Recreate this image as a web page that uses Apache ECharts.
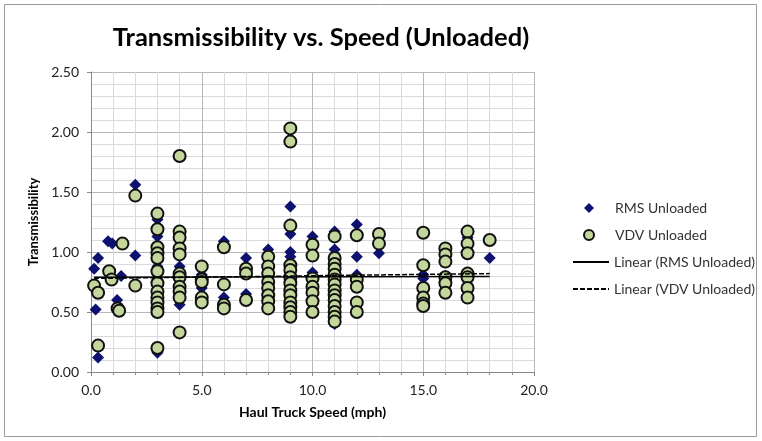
<!DOCTYPE html>
<html lang="en">
<head>
    <meta charset="UTF-8" />
    <title>Transmissibility vs. Speed</title>
    <script src="https://cdn.jsdelivr.net/npm/echarts@6/dist/echarts.min.js"></script>
    <style>
        html, body { margin: 0; padding: 0; background: #fff; }
    </style>
</head>
<body>
    <div id="chart" style="width: 762px; height: 441px"></div>
    <script>
        // RMS Unloaded: [speed (mph), transmissibility]
        var rmsData = [
            [0.14, 0.86], [0.21, 0.52], [0.32, 0.95], [0.32, 0.12],
            [0.77, 1.09], [0.96, 1.07], [1.18, 0.60], [1.36, 0.80],
            [2, 1.56], [2, 0.97],
            [3, 1.27], [3, 1.13], [3, 0.88], [3, 0.77], [3, 0.71], [3, 0.16],
            [4, 1.10], [4, 0.88], [4, 0.84], [4, 0.56],
            [5, 0.81], [5, 0.70],
            [6, 1.09], [6, 0.62],
            [7, 0.95], [7, 0.65],
            [8, 1.02], [8, 0.95], [8, 0.60],
            [9, 1.38], [9, 1.15], [9, 1.00], [9, 0.96], [9, 0.50],
            [10, 1.13], [10, 0.83],
            [11, 1.17], [11, 1.02], [11, 0.40],
            [12, 1.23], [12, 0.96], [12, 0.81],
            [13, 0.99],
            [15, 0.81], [15, 0.78], [15, 0.63],
            [16, 0.92], [16, 0.80],
            [17, 1.12], [17, 0.78],
            [18, 0.95]
        ];

        // VDV Unloaded: [speed (mph), transmissibility]
        var vdvData = [
            [0.14, 0.72], [0.32, 0.66], [0.32, 0.22], [0.82, 0.84], [0.93, 0.77],
            [1.2, 0.53], [1.27, 0.51], [1.42, 1.07],
            [2, 1.47], [2, 0.72],
            [3, 1.32], [3, 1.19], [3, 1.04], [3, 0.99], [3, 0.95], [3, 0.84], [3, 0.74],
            [3, 0.67], [3, 0.62], [3, 0.58], [3, 0.53], [3, 0.50], [3, 0.20],
            [4, 1.80], [4, 1.17], [4, 1.12], [4, 1.03], [4, 0.98], [4, 0.82], [4, 0.79],
            [4, 0.71], [4, 0.67], [4, 0.62], [4, 0.33],
            [5, 0.88], [5, 0.77], [5, 0.75], [5, 0.62], [5, 0.58],
            [6, 1.04], [6, 0.73], [6, 0.56], [6, 0.53],
            [7, 0.86], [7, 0.82], [7, 0.60],
            [8, 0.96], [8, 0.88], [8, 0.82], [8, 0.75], [8, 0.70], [8, 0.64], [8, 0.59], [8, 0.53],
            [9, 2.03], [9, 1.92], [9, 1.22], [9, 0.89], [9, 0.85], [9, 0.79], [9, 0.74],
            [9, 0.68], [9, 0.64], [9, 0.58], [9, 0.54], [9, 0.50], [9, 0.46],
            [10, 1.06], [10, 0.97], [10, 0.78], [10, 0.71], [10, 0.66], [10, 0.59], [10, 0.50],
            [11, 1.13], [11, 0.95], [11, 0.90], [11, 0.86], [11, 0.81], [11, 0.77], [11, 0.73],
            [11, 0.68], [11, 0.64], [11, 0.60], [11, 0.55], [11, 0.50], [11, 0.46], [11, 0.42],
            [12, 1.14], [12, 0.77], [12, 0.71], [12, 0.58], [12, 0.50],
            [13, 1.15], [13, 1.07],
            [15, 1.16], [15, 0.89], [15, 0.70], [15, 0.62], [15, 0.57], [15, 0.55],
            [16, 1.03], [16, 0.98], [16, 0.92], [16, 0.79], [16, 0.74], [16, 0.66],
            [17, 1.17], [17, 1.07], [17, 0.99], [17, 0.82], [17, 0.79], [17, 0.70], [17, 0.62],
            [18, 1.10]
        ];

        // trend line end points
        var rmsTrend = [[0.14, 0.79], [18, 0.795]];
        var vdvTrend = [[0.14, 0.78], [18, 0.82]];

        var seriesNames = ["RMS Unloaded", "VDV Unloaded", "Linear (RMS Unloaded)", "Linear (VDV Unloaded)"];

        var font = "Lato, 'Open Sans', sans-serif";
        var chart = echarts.init(document.getElementById("chart"));

        var hidden = { color: "rgba(0,0,0,0)", borderWidth: 0, borderColor: "rgba(0,0,0,0)" };
        var legendText = { fontFamily: font, fontSize: 14, color: "#333" };

        var option = {
            animation: false,
            backgroundColor: "#fff",
            textStyle: { fontFamily: font },
            title: {
                text: "Transmissibility vs. Speed (Unloaded)",
                left: 316,
                top: 20,
                textAlign: "center",
                textStyle: { fontFamily: font, fontSize: 25.5, fontWeight: "bold", color: "#000" }
            },
            grid: { left: 91, right: 228, top: 72, bottom: 69 },
            legend: [
                {
                    // marker items
                    orient: "vertical",
                    left: 578,
                    top: 196,
                    itemWidth: 10,
                    itemHeight: 10,
                    itemGap: 13,
                    data: [
                        { name: seriesNames[0], icon: "diamond" },
                        { name: seriesNames[1], icon: "circle" }
                    ],
                    textStyle: Object.assign({ padding: [0, 0, 0, 16] }, legendText)
                },
                {
                    // trend line items
                    orient: "vertical",
                    left: 567,
                    top: 250,
                    itemWidth: 36,
                    itemHeight: 10,
                    itemGap: 13,
                    data: [
                        { name: seriesNames[2], itemStyle: hidden },
                        { name: seriesNames[3], itemStyle: hidden }
                    ],
                    textStyle: legendText
                }
            ],
            xAxis: {
                type: "value",
                min: 0,
                max: 20,
                interval: 5,
                name: "Haul Truck Speed (mph)",
                nameLocation: "middle",
                nameGap: 33,
                nameTextStyle: { fontFamily: font, fontSize: 14, fontWeight: "bold", color: "#000" },
                axisLine: { onZero: false, lineStyle: { color: "#888" } },
                axisTick: { show: true, length: 4, inside: false, lineStyle: { color: "#888" } },
                minorTick: { show: true, splitNumber: 5, length: 3, lineStyle: { color: "#888" } },
                axisLabel: {
                    fontFamily: font, fontSize: 14, color: "#222", margin: 11,
                    formatter: function (v) { return v.toFixed(1); }
                },
                splitLine: { show: true, lineStyle: { color: "#b8b8b8", width: 1 } },
                minorSplitLine: { show: true, lineStyle: { color: "#dadada", width: 1 } }
            },
            yAxis: {
                type: "value",
                min: 0,
                max: 2.5,
                interval: 0.5,
                name: "Transmissibility",
                nameLocation: "middle",
                nameRotate: 90,
                nameGap: 42,
                nameTextStyle: { fontFamily: font, fontSize: 13, fontWeight: "bold", color: "#000" },
                axisLine: { show: true, lineStyle: { color: "#888" } },
                axisTick: { show: true, length: 4, lineStyle: { color: "#888" } },
                axisLabel: {
                    fontFamily: font, fontSize: 14, color: "#222", margin: 12,
                    formatter: function (v) { return v.toFixed(2); }
                },
                splitLine: { show: true, lineStyle: { color: "#b8b8b8", width: 1 } },
                minorTick: { show: false, splitNumber: 5 },
                minorSplitLine: { show: true, lineStyle: { color: "#dadada", width: 1 } }
            },
            series: [
                {
                    name: seriesNames[0],
                    type: "scatter",
                    symbol: "diamond",
                    symbolSize: 12,
                    data: rmsData,
                    itemStyle: { color: "#0d1170", opacity: 1 }
                },
                {
                    name: seriesNames[1],
                    type: "scatter",
                    symbol: "circle",
                    symbolSize: 12,
                    data: vdvData,
                    itemStyle: { color: "#c3d69b", borderColor: "#111", borderWidth: 2, opacity: 1 }
                },
                {
                    name: seriesNames[2],
                    type: "line",
                    symbol: "none",
                    data: rmsTrend,
                    lineStyle: { color: "#000", width: 1.5, type: "solid" },
                    itemStyle: { color: "#000" }
                },
                {
                    name: seriesNames[3],
                    type: "line",
                    symbol: "none",
                    data: vdvTrend,
                    lineStyle: { color: "#000", width: 1.5, type: [5, 2] },
                    itemStyle: { color: "#000" }
                }
            ],
            graphic: [
                {
                    type: "rect",
                    shape: { x: 4.5, y: 4.5, width: 752, height: 432 },
                    style: { fill: "none", stroke: "#9a9a9a", lineWidth: 1 },
                    silent: true,
                    z: -10
                }
            ]
        };

        chart.setOption(option);
    </script>
</body>
</html>
